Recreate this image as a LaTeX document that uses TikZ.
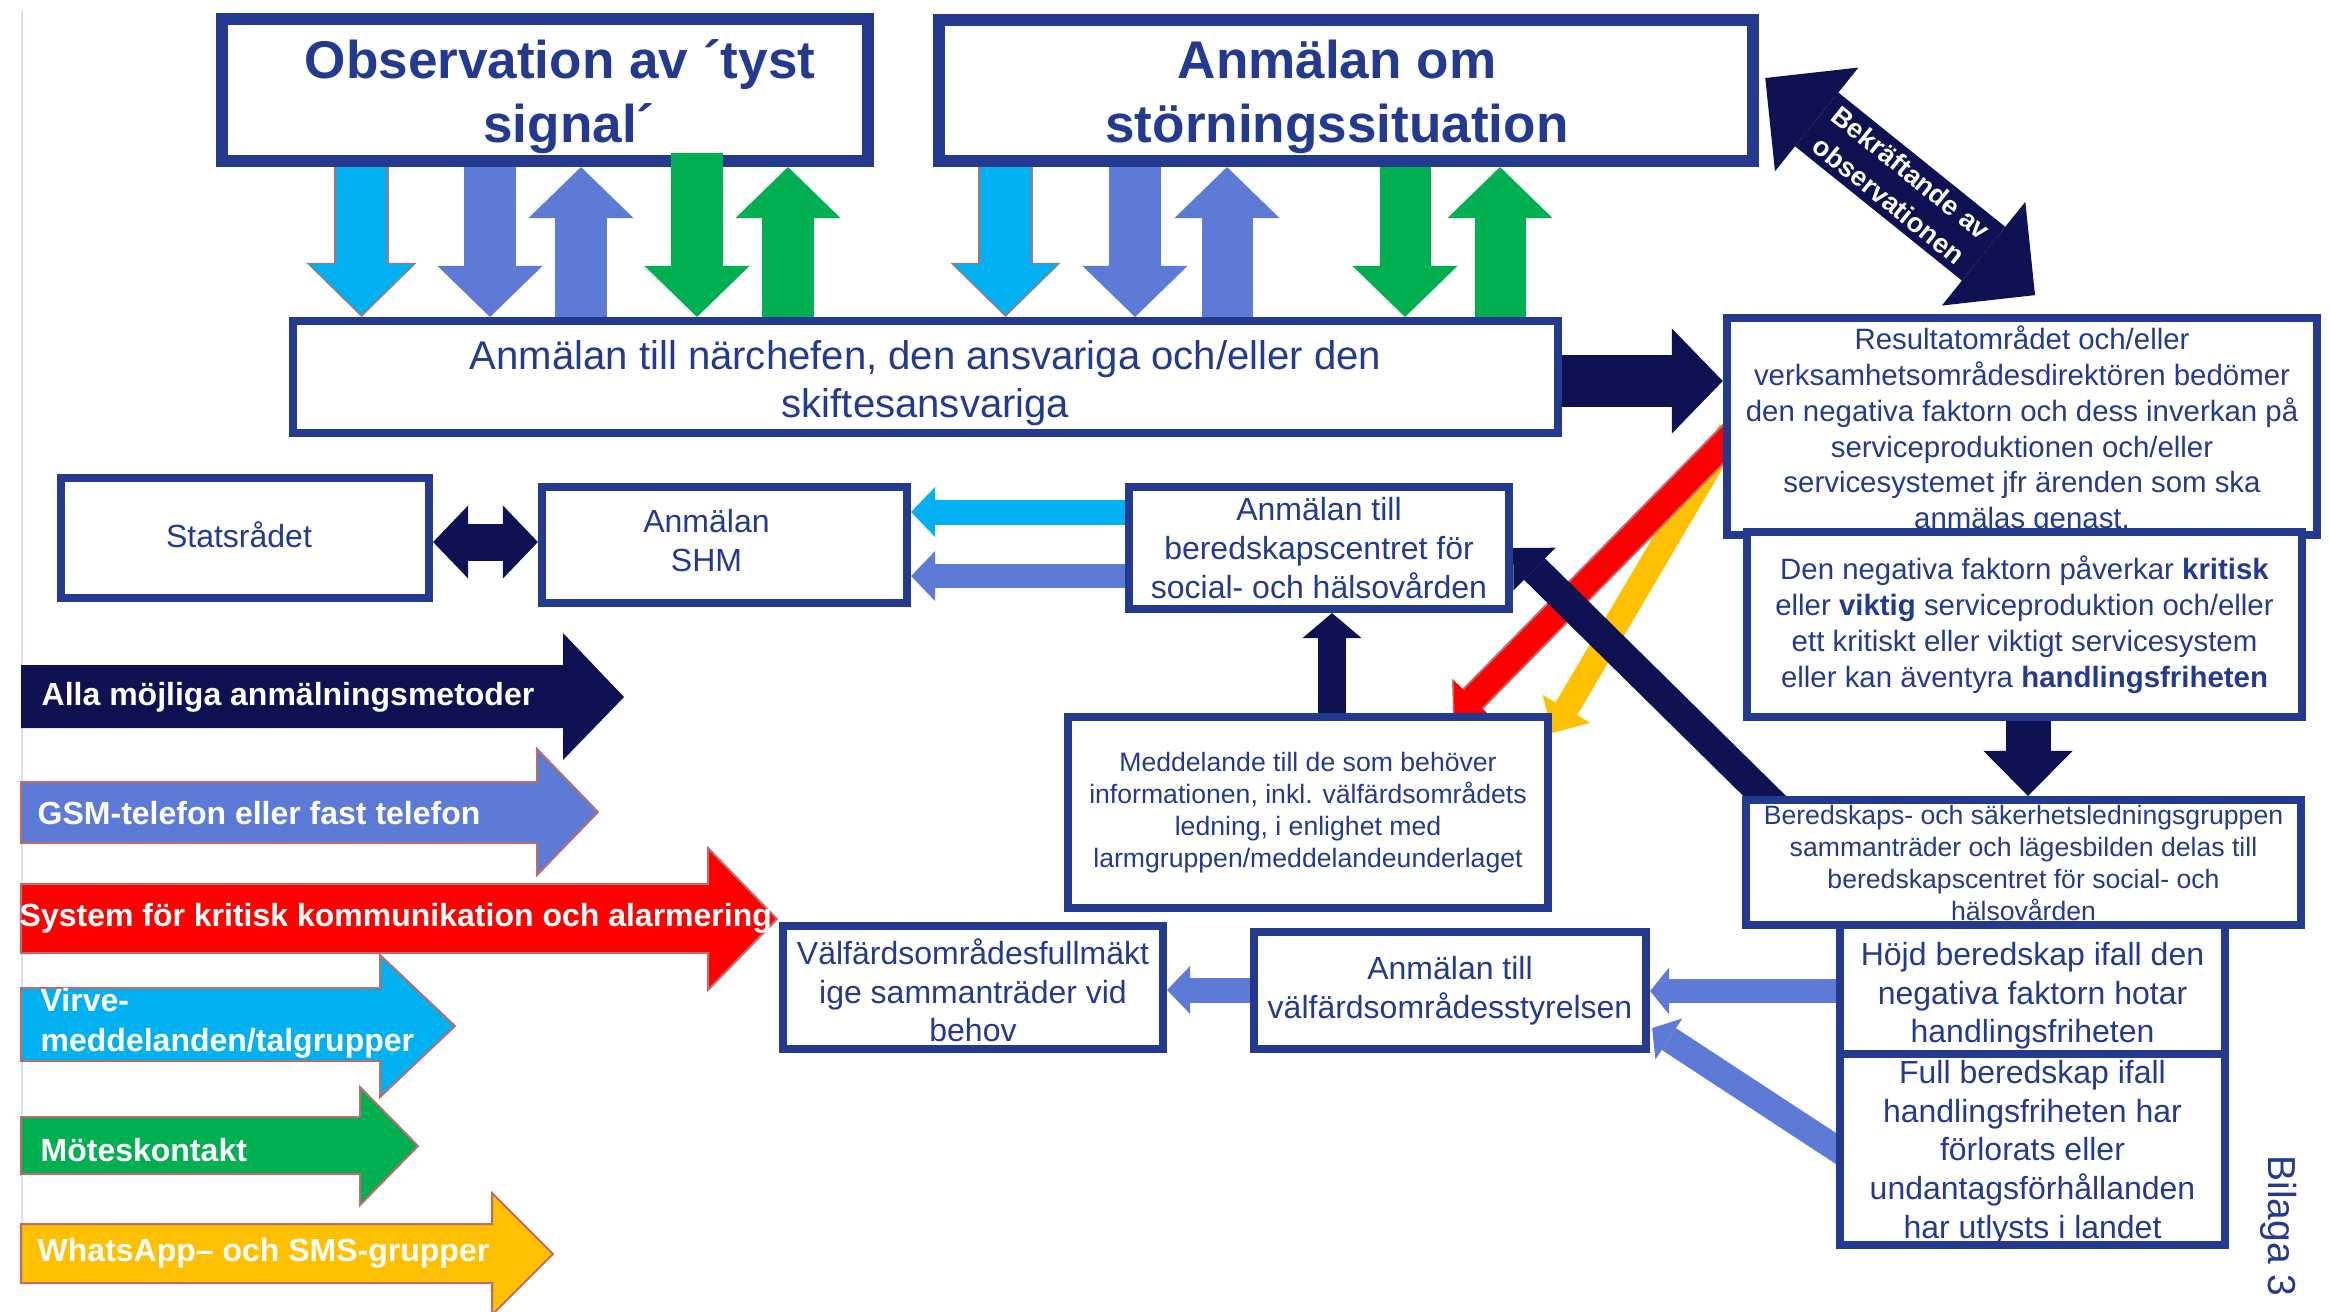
\documentclass[tikz,border=0pt]{standalone}
\usepackage{fontspec}
\setmainfont{Liberation Sans}
\usepackage{tikz}
\usetikzlibrary{arrows.meta,backgrounds}
\usepackage{xcolor}
\definecolor{blframe}{RGB}{35,58,143}
\definecolor{blnavy}{RGB}{14,17,82}
\definecolor{blcyan}{RGB}{0,176,240}
\definecolor{blmid}{RGB}{93,122,215}
\definecolor{blgreen}{RGB}{0,176,80}
\definecolor{blred}{RGB}{255,0,0}
\definecolor{blyellow}{RGB}{255,192,0}
\definecolor{bloutline}{RGB}{185,110,110}
\definecolor{blrule}{RGB}{215,225,242}
\tikzstyle{box} = [rectangle, draw=blframe, line width=0.08cm, fill=white, text=blframe, align=center, inner sep=0pt, font=\fontsize{9.1}{11}\selectfont]
\tikzstyle{titlebox} = [box, line width=0.12cm, font=\bfseries\fontsize{15.1}{18.2}\selectfont]
\tikzstyle{fatarrow} = [line width=0.51cm, -{Triangle[width=1.05cm,length=0.51cm,line width=0pt]}]
\tikzstyle{rimarrow} = [bloutline, line width=0.55cm, -{Triangle[width=1.10cm,length=0.54cm,line width=0pt]}]
\tikzstyle{thinarrow} = [line width=0.25cm, -{Triangle[width=0.50cm,length=0.24cm,line width=0pt]}]
\tikzstyle{legendarrow} = [draw=bloutline, line width=0.02cm]
\tikzstyle{legendtext} = [anchor=west, inner sep=0pt, align=left, text=white, font=\bfseries\fontsize{9.1}{11.4}\selectfont]

\begin{document}
\begin{tikzpicture}[x=0.01cm, y=-0.01cm]
\useasboundingbox (0,0) rectangle (2330,1311);
% faint rule at the left edge
\draw[blrule, line width=0.015cm] (22,10) -- (22,1225);

% top boxes
\node[titlebox, minimum width=6.46cm, minimum height=1.42cm] (obs) at (545,90) {\rule{0pt}{14.6pt}\hspace*{0.30cm}Observation av ´tyst\\\hspace*{0.48cm}signal´};
\node[titlebox, minimum width=8.14cm, minimum height=1.41cm] (storn) at (1346,90.5) {\rule{0pt}{14.3pt}Anmälan om\hspace*{0.18cm}\\störningssituation\hspace*{0.18cm}};
\node[box, minimum width=12.65cm, minimum height=1.12cm, font=\fontsize{11.4}{13.5}\selectfont] (narchef) at (925.5,377) {\rule{0pt}{11.7pt}Anmälan till närchefen, den ansvariga och/eller den\\skiftesansvariga};

% right column
\node[box, minimum width=5.90cm, minimum height=2.11cm, font=\fontsize{8.36}{10.2}\selectfont] (result) at (2022,426.5) {\rule{0pt}{8.9pt}Resultatområdet och/eller\\verksamhetsområdesdirektören bedömer\\den negativa faktorn och dess inverkan på\\serviceproduktionen och/eller\\servicesystemet jfr ärenden som ska\\anmälas genast.};
\node[box, minimum width=5.55cm, minimum height=1.85cm, font=\fontsize{8.36}{10.2}\selectfont] (negfak) at (2024.5,624.5) {Den negativa faktorn påverkar \textbf{kritisk}\\eller \textbf{viktig} serviceproduktion och/eller\\ett kritiskt eller viktigt servicesystem\\eller kan äventyra \textbf{handlingsfriheten}};
\node[box, minimum width=5.55cm, minimum height=1.25cm, font=\fontsize{7.57}{9.1}\selectfont] (ledgrp) at (2023.5,862.5) {Beredskaps- och säkerhetsledningsgruppen\\sammanträder och lägesbilden delas till\\beredskapscentret för social- och\\hälsovården};
\node[box, minimum width=3.85cm, minimum height=1.30cm] (hojd) at (2032.5,990) {\rule{0pt}{10pt}Höjd beredskap ifall den\\negativa faktorn hotar\\handlingsfriheten};
\node[box, minimum width=3.85cm, minimum height=1.89cm] (full) at (2032.5,1149.5) {\rule{0pt}{8.3pt}Full beredskap ifall\\handlingsfriheten har\\förlorats eller\\undantagsförhållanden\\har utlysts i landet};

% middle boxes
\node[box, minimum width=3.68cm, minimum height=1.20cm] (stats) at (245,538) {\rule[-1.7pt]{0pt}{0pt}Statsrådet\hspace*{0.12cm}};
\node[box, minimum width=3.65cm, minimum height=1.16cm] (shm) at (724.5,545) {Anmälan\hspace*{0.36cm}\\\rule[-2.6pt]{0pt}{0pt}SHM\hspace*{0.36cm}};
\node[box, minimum width=3.80cm, minimum height=1.22cm] (bcentr) at (1319,548) {Anmälan till\\beredskapscentret för\\social- och hälsovården};
\node[box, minimum width=4.80cm, minimum height=1.91cm, font=\fontsize{7.57}{9.16}\selectfont] (medd) at (1308,812.5) {Meddelande till de som behöver\\informationen, inkl. välfärdsområdets\\ledning, i enlighet med\\larmgruppen/meddelandeunderlaget};
\node[box, minimum width=3.92cm, minimum height=1.17cm] (styr) at (1450,990.5) {Anmälan till\\välfärdsområdesstyrelsen};
\node[box, minimum width=3.80cm, minimum height=1.23cm] (fullm) at (973,987.5) {\rule{0pt}{9pt}Välfärdsområdesfullmäkt\\ige sammanträder vid\\behov};

% legend arrows
\fill[blnavy] (21,665) -- (563,665) -- (563,633) -- (624,697) -- (563,760) -- (563,728) -- (21,728) -- cycle;
\filldraw[legendarrow, fill=blmid] (21,782) -- (537,782) -- (537,749) -- (598,812) -- (537,875) -- (537,843) -- (21,843) -- cycle;
\filldraw[legendarrow, fill=blred] (21,884) -- (708,884) -- (708,848) -- (777,919) -- (708,990) -- (708,953) -- (21,953) -- cycle;
\filldraw[legendarrow, fill=blcyan] (21,988) -- (380,988) -- (380,955) -- (455,1026) -- (380,1097) -- (380,1061) -- (21,1061) -- cycle;
\filldraw[legendarrow, fill=blgreen] (21,1117) -- (360,1117) -- (360,1087) -- (418,1146) -- (360,1205) -- (360,1174) -- (21,1174) -- cycle;
\filldraw[legendarrow, fill=blyellow] (21,1224) -- (492,1224) -- (492,1193) -- (553,1254) -- (492,1315) -- (492,1283) -- (21,1283) -- cycle;
\node[legendtext] (alla) at (41,697) {Alla möjliga anmälningsmetoder};
\node[legendtext] (gsm) at (37,813) {GSM-telefon eller fast telefon};
\node[legendtext] (krit) at (19,918) {System för kritisk kommunikation och alarmering};
\node[legendtext] (virve) at (40,1023) {Virve-\\meddelanden/talgrupper};
\node[legendtext] (mote) at (40,1150) {Möteskontakt};
\node[legendtext] (whats) at (37,1253) {WhatsApp– och SMS-grupper};

% arrows between the top boxes and the first report
\draw[rimarrow] (361.5,0 |- obs.south) -- (361.5,0 |- narchef.north);
\draw[fatarrow, blcyan, shorten >=0.02cm] (361.5,0 |- obs.south) -- (361.5,0 |- narchef.north);
\draw[fatarrow, blmid] (490,0 |- obs.south) -- (490,0 |- narchef.north);
\draw[fatarrow, blmid] (581,0 |- narchef.north) -- (581,0 |- obs.south);
\draw[fatarrow, blgreen] (697,153) -- (697,0 |- narchef.north);
\draw[fatarrow, blgreen] (788,0 |- narchef.north) -- (788,0 |- obs.south);
\draw[rimarrow] (1005.5,0 |- storn.south) -- (1005.5,0 |- narchef.north);
\draw[fatarrow, blcyan, shorten >=0.02cm] (1005.5,0 |- storn.south) -- (1005.5,0 |- narchef.north);
\draw[fatarrow, blmid] (1135,0 |- storn.south) -- (1135,0 |- narchef.north);
\draw[fatarrow, blmid] (1227,0 |- narchef.north) -- (1227,0 |- storn.south);
\draw[fatarrow, blgreen] (1405,0 |- storn.south) -- (1405,0 |- narchef.north);
\draw[fatarrow, blgreen] (1500,0 |- narchef.north) -- (1500,0 |- storn.south);
\draw[fatarrow, blnavy, line width=0.52cm] (narchef.east |- 0,381) -- (result.west |- 0,381);

% confirmation
\draw[blnavy, line width=0.69cm, {Triangle[width=1.33cm,length=0.66cm,line width=0pt]}-{Triangle[width=1.33cm,length=0.66cm,line width=0pt]}] ([xshift=0.06cm,yshift=0.125cm]storn.east) -- ([xshift=0.13cm,yshift=0.19cm]result.north)
  node[midway, sloped, text=white, align=center, font=\bfseries\fontsize{7.7}{10}\selectfont] (bekr) {Bekräftande av\\observationen};

% middle connectors
\draw[blnavy, line width=0.37cm, {Triangle[width=0.73cm,length=0.35cm,line width=0pt]}-{Triangle[width=0.73cm,length=0.35cm,line width=0pt]}] (stats.east |- 0,542) -- (shm.west |- 0,542);
\draw[thinarrow, blcyan] (bcentr.west |- 0,512) -- (shm.east |- 0,512);
\draw[thinarrow, blmid, line width=0.24cm] (bcentr.west |- 0,576) -- (shm.east |- 0,576);
\draw[blnavy, line width=0.28cm, -{Triangle[width=0.59cm,length=0.25cm,line width=0pt]}] (1332,0 |- medd.north) -- (1332,0 |- bcentr.south);
\draw[blnavy, line width=0.45cm, -{Triangle[width=0.89cm,length=0.45cm,line width=0pt]}] (2028,0 |- negfak.south) -- (2028,0 |- ledgrp.north);
\draw[thinarrow, blmid, line width=0.24cm, -{Triangle[width=0.47cm,length=0.19cm,line width=0pt]}] (hojd.west |- 0,991) -- (styr.east |- 0,991);
\draw[thinarrow, blmid, -{Triangle[width=0.48cm,length=0.23cm,line width=0pt]}] (styr.west |- 0,990) -- (fullm.east |- 0,990);

% diagonals behind the boxes
\begin{pgfonlayer}{background}
\draw[thinarrow, blyellow, -{Triangle[width=0.55cm,length=0.28cm,line width=0pt]}] ([xshift=0.076cm,yshift=-0.04cm]result.west) -- ([yshift=-0.20cm]medd.north east);
\draw[bloutline, line width=0.29cm, -{Triangle[width=0.58cm,length=0.28cm,line width=0pt]}] ([xshift=0.105cm,yshift=-0.073cm]result.west) -- ([xshift=1.45cm,yshift=-0.06cm]medd.north);
\draw[thinarrow, blred, -{Triangle[width=0.53cm,length=0.26cm,line width=0pt]}, shorten >=0.02cm] ([xshift=0.105cm,yshift=-0.073cm]result.west) -- ([xshift=1.45cm,yshift=-0.06cm]medd.north);
\draw[blnavy, line width=0.30cm, -{Triangle[width=0.60cm,length=0.30cm,line width=0pt]}] ([xshift=0.36cm,yshift=-0.13cm]ledgrp.north west) -- (bcentr.east);
\draw[thinarrow, blmid, line width=0.26cm, -{Triangle[width=0.49cm,length=0.20cm,line width=0pt]}] ([xshift=0.115cm,yshift=-0.065cm]full.west) -- ([xshift=0.02cm,yshift=-0.375cm]styr.east);
\end{pgfonlayer}

\node[rotate=-90, text=blframe, font=\fontsize{11.1}{13}\selectfont] (bilaga) at (2279,1226) {Bilaga 3};
\end{tikzpicture}
\end{document}
